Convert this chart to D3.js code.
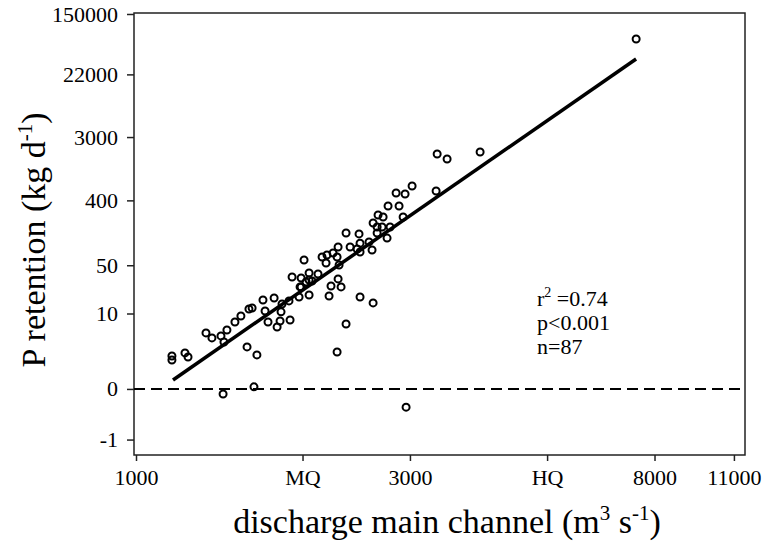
<!DOCTYPE html>
<html>
<head>
<meta charset="utf-8">
<script src="https://cdn.jsdelivr.net/npm/d3@7"></script>
<style>
  body { margin: 0; background: #fff; }
  svg text { font-family: "Liberation Serif", "Times New Roman", serif; fill: #000; }
</style>
</head>
<body>
<div id="chart"></div>
<script>
// discharge main channel (m3/s) and P retention (kg/d), one entry per site
const discharge = [1155, 1155, 1217, 1232, 1324, 1356, 1406, 1440, 1423, 1487,
  1523, 1573, 1561, 1624, 1418, 1605, 1664, 1740, 1678, 1698,
  1761, 1782, 1789, 1847, 1855, 1923, 1939, 1978, 2002, 1870,
  1939, 2002, 2075, 2026, 1962, 2109, 2151, 2204, 2240, 2143,
  2258, 2249, 2186, 2276, 2169, 2322, 2240, 2322, 2360, 2249,
  2446, 2546, 2456, 2427, 2577, 2456, 2456, 2588, 2588, 2630,
  2683, 2770, 2630, 2737, 2640, 2694, 2748, 2954, 2872, 2919,
  2838, 2942, 3026, 3332, 3346, 3482, 3975, 7432, 1796, 1593,
  2002, 1931];
const retention = [1.85, 1.51, 2.14, 1.76, 4.93, 4.06, 4.39, 5.52, 3.45, 7.41,
  9.17, 11.7, 2.8, 1.95, -0.15, 0.07, 15.9, 17.0, 10.9, 7.41,
  6.17, 7.68, 10.6, 15.4, 7.96, 17.6, 24.6, 29.0, 18.8, 34.1,
  33.0, 38.9, 37.6, 29.9, 59.3, 65.3, 69.7, 74.3, 65.3, 53.8,
  50.4, 32.0, 25.4, 24.6, 18.2, 6.89, 2.24, 141, 90.1, 90.1,
  137, 106, 102, 84.5, 81.8, 76.8, 17.6, 14.4, 194, 171,
  171, 171, 141, 120, 251, 235, 334, -0.44, 334, 235,
  506, 490, 632, 539, 1750, 1493, 1864, 67700, 13.9, 12.1,
  30.9, 24.6];

const xTickValues = [1000, 1950, 3000, 5200, 8000, 11000];
const xTickLabels = ["1000", "MQ", "3000", "HQ", "8000", "11000"];
const yTickValues = [150000, 22000, 3000, 400, 50, 10, 0, -0.8];
const yTickLabels = ["150000", "22000", "3000", "400", "50", "10", "0", "-1"];

// fitted line: ln(P+1) = a + b*log10(Q)
const fitA = -38.48;
const fitB = 12.65;
const fitQ = [1160, 7430];

const width = 762;
const height = 553;
const marginTop = 13;
const marginRight = 17;
const marginBottom = 98;
const marginLeft = 134;

const data = discharge.map((q, i) => ({q: q, p: retention[i]}));
const tr = v => Math.log1p(v);

const x = d3.scaleLog()
    .domain([992, 11500])
    .range([marginLeft, width - marginRight]);

const yT = d3.scaleLinear()
    .domain([-2.1, 11.95])
    .range([height - marginBottom, marginTop]);
const y = v => yT(tr(v));

const svg = d3.select("#chart").append("svg")
    .attr("width", width)
    .attr("height", height)
    .attr("viewBox", [0, 0, width, height]);

// box
svg.append("rect")
    .attr("x", marginLeft)
    .attr("y", marginTop)
    .attr("width", width - marginRight - marginLeft)
    .attr("height", height - marginBottom - marginTop)
    .attr("fill", "none")
    .attr("stroke", "#222")
    .attr("stroke-width", 1.5);

// axes
const gx = svg.append("g")
    .attr("transform", `translate(0,${height - marginBottom})`)
    .call(d3.axisBottom(x).tickValues(xTickValues)
        .tickFormat((d, i) => xTickLabels[i]).tickSize(6).tickPadding(8))
    .call(g => g.select(".domain").remove());
gx.selectAll("text").attr("font-size", 22);
gx.selectAll("line").attr("stroke", "#222").attr("stroke-width", 1.5);

const gy = svg.append("g")
    .attr("transform", `translate(${marginLeft},0)`)
    .call(d3.axisLeft(yT).tickValues(yTickValues.map(tr))
        .tickFormat((d, i) => yTickLabels[i]).tickSize(7).tickPadding(9))
    .call(g => g.select(".domain").remove());
gy.selectAll("text").attr("font-size", 22);
gy.selectAll("line").attr("stroke", "#222").attr("stroke-width", 1.5);

// zero line
svg.append("line")
    .attr("x1", marginLeft)
    .attr("x2", width - marginRight)
    .attr("y1", y(0))
    .attr("y2", y(0))
    .attr("stroke", "#000")
    .attr("stroke-width", 2)
    .attr("stroke-dasharray", "11,6");

// regression line
svg.append("line")
    .attr("x1", x(fitQ[0]))
    .attr("x2", x(fitQ[1]))
    .attr("y1", yT(fitA + fitB * Math.log10(fitQ[0])))
    .attr("y2", yT(fitA + fitB * Math.log10(fitQ[1])))
    .attr("stroke", "#000")
    .attr("stroke-width", 3.5);

// points
svg.append("g")
    .selectAll("circle")
    .data(data)
    .join("circle")
    .attr("cx", d => x(d.q))
    .attr("cy", d => y(d.p))
    .attr("r", 3.5)
    .attr("fill", "none")
    .attr("stroke", "#000")
    .attr("stroke-width", 2);

// stats
const st = svg.append("g").attr("font-size", 22);
const t1 = st.append("text").attr("x", 537).attr("y", 306);
t1.append("tspan").text("r");
t1.append("tspan").attr("font-size", 14).attr("dy", -9).text("2");
t1.append("tspan").attr("dy", 9).text(" =0.74");
st.append("text").attr("x", 537).attr("y", 330).text("p<0.001");
st.append("text").attr("x", 537).attr("y", 354).text("n=87");

// axis titles
const xl = svg.append("text")
    .attr("x", 447)
    .attr("y", 533)
    .attr("text-anchor", "middle")
    .attr("font-size", 34);
xl.append("tspan").text("discharge main channel (m");
xl.append("tspan").attr("font-size", 21).attr("dy", -13).text("3");
xl.append("tspan").attr("dy", 13).text(" s");
xl.append("tspan").attr("font-size", 21).attr("dy", -13).text("-1");
xl.append("tspan").attr("dy", 13).text(")");

const yl = svg.append("text")
    .attr("transform", `translate(45,240) rotate(-90)`)
    .attr("text-anchor", "middle")
    .attr("font-size", 34);
yl.append("tspan").text("P retention (kg d");
yl.append("tspan").attr("font-size", 21).attr("dy", -13).text("-1");
yl.append("tspan").attr("dy", 13).text(")");
</script>
</body>
</html>
